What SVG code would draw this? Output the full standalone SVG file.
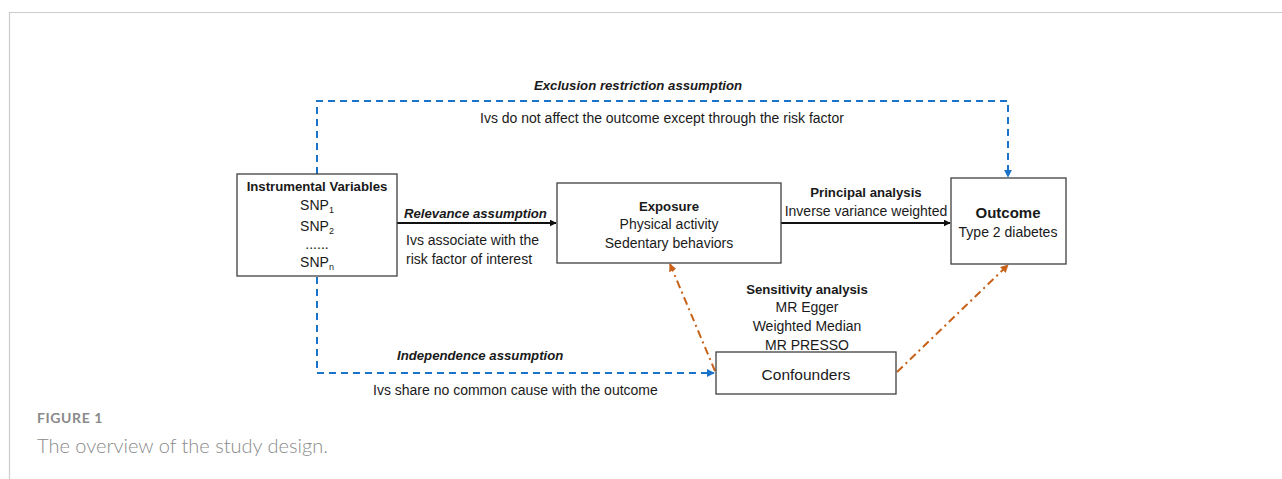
<svg xmlns="http://www.w3.org/2000/svg" width="1282" height="479" viewBox="0 0 1282 479">
<defs>
<style>
.box{fill:#fff;stroke:#404040;stroke-width:1.3}
.t{font-family:"Liberation Sans",Arial,sans-serif;font-size:14px;fill:#1a1a1a}
.b{font-weight:bold;font-size:13.2px}
.bi{font-weight:bold;font-style:italic;font-size:13.2px}
.c{text-anchor:middle}
.blue{fill:none;stroke:#1a73c8;stroke-width:2;stroke-dasharray:7,5}
.orange{fill:none;stroke:#c8621a;stroke-width:2;stroke-dasharray:8,4,2,4}
.blk{fill:none;stroke:#111;stroke-width:2}
.cap{font-family:Lato,"Open Sans",sans-serif;fill:#8a8a8a}
</style>
<marker id="ab" viewBox="0 0 10 10" refX="9" refY="5" markerWidth="4" markerHeight="4" orient="auto"><path d="M0,0L10,5L0,10z" fill="#1a73c8"/></marker>
<marker id="ak" viewBox="0 0 10 10" refX="9" refY="5" markerWidth="3.5" markerHeight="3.5" orient="auto"><path d="M0,0L10,5L0,10z" fill="#111"/></marker>
<marker id="ao" viewBox="0 0 10 10" refX="9" refY="5" markerWidth="4" markerHeight="4" orient="auto"><path d="M0,0L10,5L0,10z" fill="#c8621a"/></marker>
</defs>
<rect width="1282" height="479" fill="#fff"/>
<path d="M9.5,479V12.5H1282" fill="none" stroke="#cccccc" stroke-width="1.2"/>
<g id="connectors">
<path class="blue" d="M317,174V101H1008V177" marker-end="url(#ab)"/>
<path class="blue" d="M317,277V373H714" marker-end="url(#ab)"/>
<path class="blk" d="M397,223H556" marker-end="url(#ak)"/>
<path class="blk" d="M781,223H950" marker-end="url(#ak)"/>
<path class="orange" d="M715,371L670,264" marker-end="url(#ao)"/>
<path class="orange" d="M897,372L1008,265" marker-end="url(#ao)"/>
</g>
<g id="labels">
<text class="t bi c" x="638" y="90">Exclusion restriction assumption</text>
<text class="t c" x="662" y="123">Ivs do not affect the outcome except through the risk factor</text>
<text class="t bi" x="404" y="218">Relevance assumption</text>
<text class="t" x="406" y="245">Ivs associate with the</text>
<text class="t" x="406" y="264">risk factor of interest</text>
<text class="t b c" x="866" y="197">Principal analysis</text>
<text class="t c" x="866" y="216">Inverse variance weighted</text>
<text class="t b c" x="807" y="294">Sensitivity analysis</text>
<text class="t c" x="807" y="312">MR Egger</text>
<text class="t c" x="807" y="331">Weighted Median</text>
<text class="t c" x="807" y="350">MR PRESSO</text>
<text class="t bi" x="397" y="360">Independence assumption</text>
<text class="t" x="373" y="395">Ivs share no common cause with the outcome</text>
</g>
<g id="iv">
<rect class="box" x="237" y="174" width="160" height="102"/>
<text class="t b c" x="317" y="191">Instrumental Variables</text>
<text class="t c" x="317" y="210">SNP<tspan font-size="9" dy="3">1</tspan></text>
<text class="t c" x="317" y="231">SNP<tspan font-size="9" dy="3">2</tspan></text>
<text class="t c" x="317" y="249">......</text>
<text class="t c" x="317" y="267">SNP<tspan font-size="9" dy="3">n</tspan></text>
</g>
<g id="exposure">
<rect class="box" x="557" y="183" width="224" height="80"/>
<text class="t b c" x="669" y="211">Exposure</text>
<text class="t c" x="669" y="229">Physical activity</text>
<text class="t c" x="669" y="248">Sedentary behaviors</text>
</g>
<g id="outcome">
<rect class="box" x="951" y="178" width="115" height="86"/>
<text class="t b c" x="1008" y="218" style="font-size:15px">Outcome</text>
<text class="t c" x="1008" y="237">Type 2 diabetes</text>
</g>
<g id="confounders">
<rect class="box" x="716" y="352" width="180" height="42"/>
<text class="t c" x="806" y="380" style="font-size:15.5px">Confounders</text>
</g>
<g id="caption">
<text class="cap" x="37" y="423" style="font-size:14px;font-weight:bold;letter-spacing:0.6px">FIGURE 1</text>
<text class="cap" x="37" y="453" style="font-size:20px;font-weight:300">The overview of the study design.</text>
</g>
</svg>
